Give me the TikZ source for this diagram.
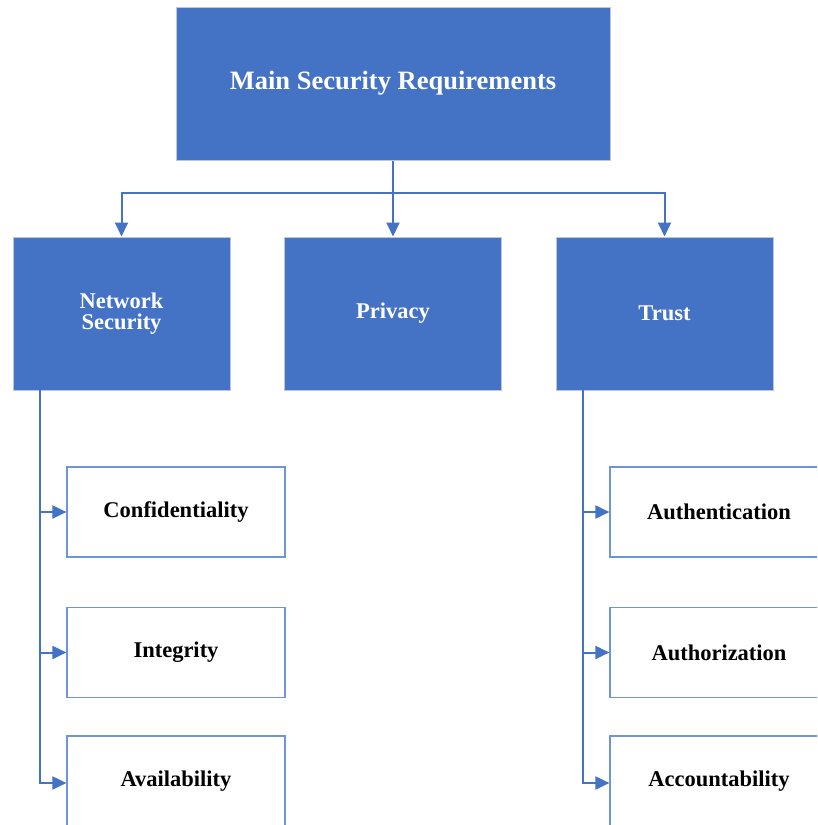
\documentclass[tikz,border=0pt]{standalone}
\usepackage{fontspec}
\setmainfont{Liberation Serif}
\usetikzlibrary{arrows.meta}
\definecolor{mblue}{HTML}{4472C4}
\definecolor{bgray}{HTML}{BFC7D5}
\definecolor{lblue}{HTML}{6F95D8}
\tikzset{
  topbox/.style={draw=bgray, line width=1pt, fill=mblue, text=white, font=\bfseries\fontsize{26.5}{28}\selectfont, minimum width=434pt, minimum height=153pt, inner sep=0pt, align=center},
  midbox/.style={draw=bgray, line width=1pt, fill=mblue, text=white, font=\bfseries\fontsize{22.5}{21}\selectfont, minimum width=217pt, minimum height=153pt, inner sep=0pt, align=center},
  leafbox/.style={draw=lblue, line width=1.2pt, fill=white, text=black, font=\bfseries\fontsize{22.5}{24}\selectfont, minimum width=218pt, minimum height=90pt, inner sep=0pt, align=center},
  conn/.style={draw=mblue, line width=2pt, -{Triangle[length=14pt,width=13pt]}},
}
\begin{document}
\begin{tikzpicture}[x=1pt,y=-1pt]
\useasboundingbox (0,0) rectangle (817,825);
\clip (0,0) rectangle (817,825);
\node[topbox] (main) at (393,83.5) {Main Security Requirements};
\node[midbox] (net) at (121.5,313.5) {Network\\Security};
\node[midbox] (priv) at (393,313.5) {Privacy};
\node[midbox] (trust) at (664.5,313.5) {Trust};
\node[leafbox] (conf) at (176,512) {Confidentiality};
\node[leafbox] (integ) at (176,652.5) {Integrity};
\node[leafbox] (avail) at (176,781) {Availability};
\node[leafbox] (authn) at (719,512) {Authentication};
\node[leafbox] (authz) at (719,652.5) {Authorization};
\node[leafbox] (acct) at (719,781) {Accountability};
\coordinate (hub) at (393,193);
\draw[draw=mblue, line width=2pt] (main.south) -- (hub);
\draw[conn] (hub) -| (net.north);
\draw[conn] (hub) -- (priv.north);
\draw[conn] (hub) -| (trust.north);
\coordinate (nl) at (40,390);
\coordinate (tl) at (583,390);
\draw[conn] (nl) |- (conf.west);
\draw[conn] (nl) |- (integ.west);
\draw[conn] (nl) |- ([yshift=-2pt]avail.west);
\draw[conn] (tl) |- (authn.west);
\draw[conn] (tl) |- (authz.west);
\draw[conn] (tl) |- ([yshift=-2pt]acct.west);
\end{tikzpicture}
\end{document}
